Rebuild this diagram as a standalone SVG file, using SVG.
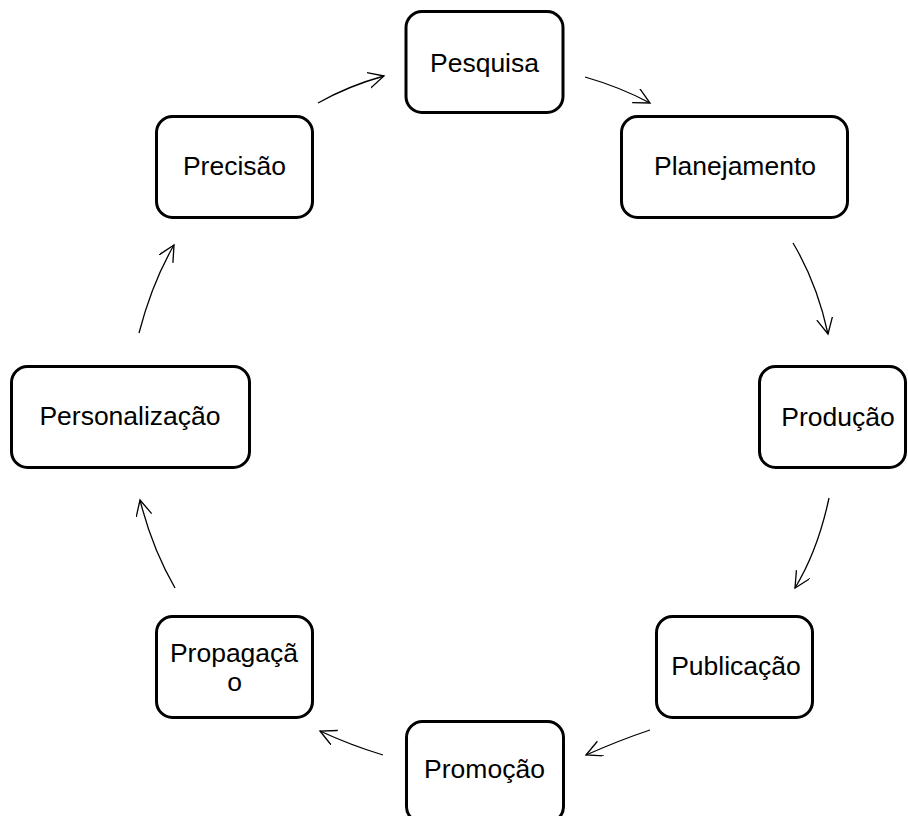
<svg xmlns="http://www.w3.org/2000/svg" width="908" height="816" viewBox="0 0 908 816">
<style>
.box{fill:#fff;stroke:#000;stroke-width:3}
.lbl{font-family:"Liberation Sans",Arial,sans-serif;font-size:26.5px;fill:#000;text-anchor:middle}
.conn{fill:none;stroke:#000;stroke-width:1.3}
</style>
<defs>
<marker id="arr" markerUnits="userSpaceOnUse" markerWidth="20" markerHeight="20" viewBox="0 0 20 20" refX="16" refY="8" orient="auto">
<path d="M0,0 L16,8 L0,16" fill="none" stroke="#000" stroke-width="1.3"/>
</marker>
</defs>
<rect width="908" height="816" fill="#fff"/>
<g id="connectors">
<path class="conn" d="M318,103 Q348,86 384,76" marker-end="url(#arr)"/>
<path class="conn" d="M585,77 Q620,87 650,103" marker-end="url(#arr)"/>
<path class="conn" d="M793,243 Q817,283 828,334" marker-end="url(#arr)"/>
<path class="conn" d="M829,498 Q818,550 795,588" marker-end="url(#arr)"/>
<path class="conn" d="M650,730 Q620,740 586,755" marker-end="url(#arr)"/>
<path class="conn" d="M383,755 Q350,745 320,731" marker-end="url(#arr)"/>
<path class="conn" d="M175,588 Q152,548 140,500" marker-end="url(#arr)"/>
<path class="conn" d="M139,333 Q152,283 174,245" marker-end="url(#arr)"/>
</g>
<g id="pesquisa"><rect class="box" x="406" y="11.5" width="157" height="101" rx="16"/><text class="lbl" x="484.5" y="72">Pesquisa</text></g>
<g id="planejamento"><rect class="box" x="621.5" y="116.5" width="226" height="101" rx="16"/><text class="lbl" x="735" y="175">Planejamento</text></g>
<g id="producao"><rect class="box" x="759.5" y="366.5" width="146" height="101" rx="16"/><text class="lbl" x="838" y="426">Produção</text></g>
<g id="publicacao"><rect class="box" x="656.5" y="616.5" width="156" height="101" rx="16"/><text class="lbl" x="736" y="675">Publicação</text></g>
<g id="promocao"><rect class="box" x="406.5" y="721.5" width="157" height="101" rx="16"/><text class="lbl" x="484.5" y="778">Promoção</text></g>
<g id="propagacao"><rect class="box" x="156.5" y="616.5" width="156" height="101" rx="16"/><text class="lbl" x="234" y="662">Propagaçã</text><text class="lbl" x="234.5" y="691">o</text></g>
<g id="personalizacao"><rect class="box" x="11.5" y="366.5" width="238" height="101" rx="16"/><text class="lbl" x="130" y="425">Personalização</text></g>
<g id="precisao"><rect class="box" x="156.5" y="116.5" width="156" height="101" rx="16"/><text class="lbl" x="234.5" y="175">Precisão</text></g>
</svg>
